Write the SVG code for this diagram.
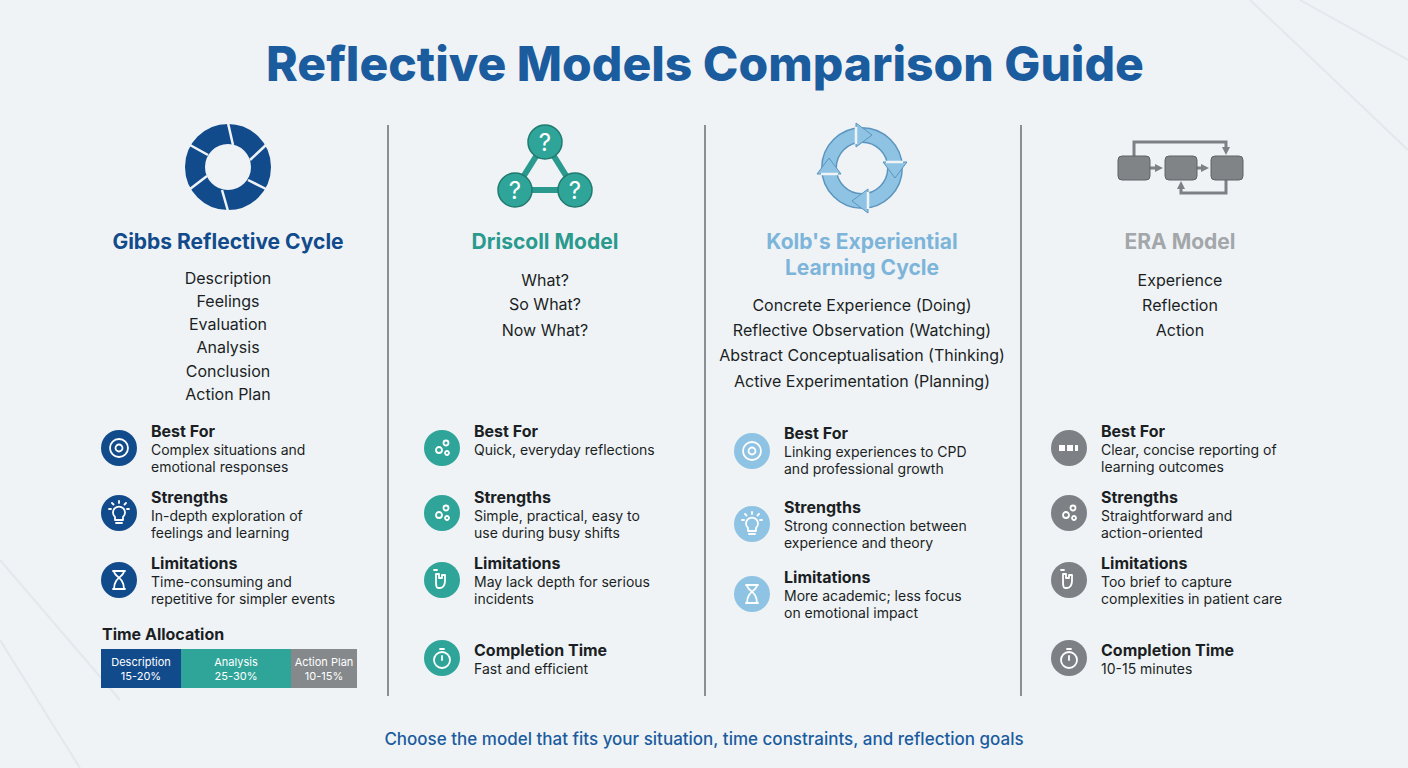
<svg xmlns="http://www.w3.org/2000/svg" width="1408" height="768" viewBox="0 0 1408 768">
<style>
text{font-family:Inter,"Noto Sans","Liberation Sans",sans-serif;fill:#1b1f24}
.t{font-size:48px;font-weight:800;fill:#1b5c9e;text-anchor:middle}
.h{font-size:21px;font-weight:700;text-anchor:middle}
.li{font-size:16px;text-anchor:middle}
.bh{font-size:16px;font-weight:700}
.bt{font-size:14px}
.div{stroke:#8a8f94;stroke-width:2}
.w{fill:none;stroke:#fff;stroke-width:1.8;stroke-linecap:round;stroke-linejoin:round}
.bar{font-size:11px;fill:#fff;text-anchor:middle}
</style>
<defs>
<marker id="ga" markerUnits="userSpaceOnUse" markerWidth="8" markerHeight="8" refX="4" refY="4" orient="auto"><path d="M0,0L8,4L0,8z" fill="#7d8185"/></marker>
<g id="ib"><circle r="9" class="w"/><circle r="3.5" class="w"/></g>
<g id="is"><path class="w" d="M-4,4a6,6 0 1 1 8,0v3h-8z M-3,10h6 M0,-12v2 M-10,-4h2 M8,-4h2 M-7,-10l1.5,1.5 M7,-10l-1.5,1.5"/></g>
<g id="il"><path class="w" d="M-6,-9h12 M-6,9h12 M-5,-9c0,6 10,6 10,18 M5,-9c0,6 -10,6 -10,18"/></g>
<g id="ig"><circle r="3" class="w" cx="-3" cy="2"/><circle r="2.5" class="w" cx="4" cy="-5"/><circle r="2" class="w" cx="5" cy="5"/></g>
<g id="ih"><path class="w" d="M-6,0v-6h3v4h3v-3h3v6c0,4 -2,7 -5,7h-2c-2,0 -2,-3 -2,-8z M-5,-10h-3"/></g>
<g id="it"><circle r="8" cy="2" class="w"/><path class="w" d="M0,2v-4 M-2,-9h4"/></g>
</defs>
<rect width="1408" height="768" fill="#eff3f6"/>
<path d="M1250,0L1408,150M1300,0L1408,60M0,560L120,700M0,640L80,768" stroke="#e3e8ec" stroke-width="2" fill="none"/>
<text class="t" x="705" y="81">Reflective Models Comparison Guide</text>
<g id="connectors">
<line class="div" x1="388" y1="125" x2="388" y2="696"/>
<line class="div" x1="705" y1="125" x2="705" y2="696"/>
<line class="div" x1="1021" y1="125" x2="1021" y2="696"/>
</g>
<g id="gibbs">
<circle cx="228" cy="167" r="33" fill="none" stroke="#124b8c" stroke-width="20"/>
<g stroke="#eff3f6" stroke-width="2.5"><line x1="228" y1="123" x2="233" y2="145"/><line x1="266" y1="145" x2="250" y2="160"/><line x1="266" y1="189" x2="248" y2="180"/><line x1="228" y1="211" x2="222" y2="190"/><line x1="190" y1="189" x2="207" y2="176"/><line x1="190" y1="145" x2="208" y2="155"/></g>
<text class="h" x="228" y="249" style="fill:#124b8c">Gibbs Reflective Cycle</text>
<text class="li" x="228" y="284">Description</text><text class="li" x="228" y="307">Feelings</text><text class="li" x="228" y="330">Evaluation</text><text class="li" x="228" y="353">Analysis</text><text class="li" x="228" y="377">Conclusion</text><text class="li" x="228" y="400">Action Plan</text>
<circle cx="119" cy="448" r="18" fill="#124b8c"/><use href="#ib" x="119" y="448"/>
<text class="bh" x="151" y="437">Best For</text><text class="bt" x="151" y="455">Complex situations and</text><text class="bt" x="151" y="472">emotional responses</text>
<circle cx="119" cy="513" r="18" fill="#124b8c"/><use href="#is" x="119" y="513"/>
<text class="bh" x="151" y="503">Strengths</text><text class="bt" x="151" y="521">In-depth exploration of</text><text class="bt" x="151" y="538">feelings and learning</text>
<circle cx="119" cy="580" r="18" fill="#124b8c"/><use href="#il" x="119" y="580"/>
<text class="bh" x="151" y="569">Limitations</text><text class="bt" x="151" y="587">Time-consuming and</text><text class="bt" x="151" y="604">repetitive for simpler events</text>
<text class="bh" x="102" y="640">Time Allocation</text>
<rect x="101" y="649" width="80" height="39" fill="#124b8c"/><rect x="181" y="649" width="110" height="39" fill="#2fa59a"/><rect x="291" y="649" width="66" height="39" fill="#85898c"/>
<text class="bar" x="141" y="666">Description</text><text class="bar" x="141" y="680">15-20%</text>
<text class="bar" x="236" y="666">Analysis</text><text class="bar" x="236" y="680">25-30%</text>
<text class="bar" x="324" y="666">Action Plan</text><text class="bar" x="324" y="680">10-15%</text>
</g>
<g id="driscoll">
<path d="M545,142L515,190L575,190Z" fill="none" stroke="#2a9a8f" stroke-width="6"/>
<circle cx="545" cy="142" r="17" fill="#2fa59a" stroke="#217a70" stroke-width="1.5"/><circle cx="515" cy="190" r="17" fill="#2fa59a" stroke="#217a70" stroke-width="1.5"/><circle cx="575" cy="190" r="17" fill="#2fa59a" stroke="#217a70" stroke-width="1.5"/>
<text x="545" y="151" font-size="24" text-anchor="middle" style="fill:#fff">?</text><text x="515" y="199" font-size="24" text-anchor="middle" style="fill:#fff">?</text><text x="575" y="199" font-size="24" text-anchor="middle" style="fill:#fff">?</text>
<text class="h" x="545" y="249" style="fill:#2a9a8f">Driscoll Model</text>
<text class="li" x="545" y="286">What?</text><text class="li" x="545" y="310">So What?</text><text class="li" x="545" y="336">Now What?</text>
<circle cx="442" cy="448" r="18" fill="#2fa59a"/><use href="#ig" x="442" y="448"/>
<text class="bh" x="474" y="437">Best For</text><text class="bt" x="474" y="455">Quick, everyday reflections</text>
<circle cx="442" cy="513" r="18" fill="#2fa59a"/><use href="#ig" x="442" y="513"/>
<text class="bh" x="474" y="503">Strengths</text><text class="bt" x="474" y="521">Simple, practical, easy to</text><text class="bt" x="474" y="538">use during busy shifts</text>
<circle cx="442" cy="580" r="18" fill="#2fa59a"/><use href="#ih" x="442" y="580"/>
<text class="bh" x="474" y="569">Limitations</text><text class="bt" x="474" y="587">May lack depth for serious</text><text class="bt" x="474" y="604">incidents</text>
<circle cx="442" cy="658" r="18" fill="#2fa59a"/><use href="#it" x="442" y="658"/>
<text class="bh" x="474" y="656">Completion Time</text><text class="bt" x="474" y="674">Fast and efficient</text>
</g>
<g id="kolb">
<circle cx="862" cy="168" r="33" fill="none" stroke="#5b95bf" stroke-width="16"/>
<circle cx="862" cy="168" r="33" fill="none" stroke="#8fc3e3" stroke-width="13"/>
<g fill="#8fc3e3" stroke="#5b95bf" stroke-width="1"><path d="M856,123l16,12l-16,12z"/><path d="M907,162l-12,16l-12,-16z"/><path d="M868,213l-16,-12l16,-12z"/><path d="M817,174l12,-16l12,16z"/></g>
<g stroke="#eff3f6" stroke-width="2.5"><line x1="856" y1="127" x2="856" y2="144"/><line x1="903" y1="162" x2="886" y2="162"/><line x1="868" y1="209" x2="868" y2="192"/><line x1="821" y1="174" x2="838" y2="174"/></g>
<text class="h" x="862" y="249" style="fill:#7db5da">Kolb's Experiential</text><text class="h" x="862" y="275" style="fill:#7db5da">Learning Cycle</text>
<text class="li" x="862" y="311">Concrete Experience (Doing)</text><text class="li" x="862" y="336">Reflective Observation (Watching)</text><text class="li" x="862" y="361">Abstract Conceptualisation (Thinking)</text><text class="li" x="862" y="387">Active Experimentation (Planning)</text>
<circle cx="752" cy="451" r="18" fill="#8fc3e3"/><use href="#ib" x="752" y="451"/>
<text class="bh" x="784" y="439">Best For</text><text class="bt" x="784" y="457">Linking experiences to CPD</text><text class="bt" x="784" y="474">and professional growth</text>
<circle cx="752" cy="524" r="18" fill="#8fc3e3"/><use href="#is" x="752" y="524"/>
<text class="bh" x="784" y="513">Strengths</text><text class="bt" x="784" y="531">Strong connection between</text><text class="bt" x="784" y="548">experience and theory</text>
<circle cx="752" cy="594" r="18" fill="#8fc3e3"/><use href="#il" x="752" y="594"/>
<text class="bh" x="784" y="583">Limitations</text><text class="bt" x="784" y="601">More academic; less focus</text><text class="bt" x="784" y="618">on emotional impact</text>
</g>
<g id="era">
<path d="M1134,156V142H1226V151" fill="none" stroke="#7d8185" stroke-width="3" marker-end="url(#ga)"/>
<path d="M1226,180V193H1181V185" fill="none" stroke="#7d8185" stroke-width="3" marker-end="url(#ga)"/>
<path d="M1150,168h9" stroke="#7d8185" stroke-width="3" marker-end="url(#ga)"/><path d="M1197,168h8" stroke="#7d8185" stroke-width="3" marker-end="url(#ga)"/>
<rect x="1118" y="156" width="32" height="24" rx="4" fill="#808487" stroke="#5f6366"/><rect x="1165" y="156" width="32" height="24" rx="4" fill="#808487" stroke="#5f6366"/><rect x="1211" y="156" width="32" height="24" rx="4" fill="#808487" stroke="#5f6366"/>
<text class="h" x="1180" y="249" style="fill:#a3a7aa">ERA Model</text>
<text class="li" x="1180" y="286">Experience</text><text class="li" x="1180" y="311">Reflection</text><text class="li" x="1180" y="336">Action</text>
<circle cx="1069" cy="448" r="18" fill="#7d8185"/><path d="M1059,445h6v6h-6zM1067,445h6v6h-6zM1075,445h3v6h-3z" fill="#fff"/>
<text class="bh" x="1101" y="437">Best For</text><text class="bt" x="1101" y="455">Clear, concise reporting of</text><text class="bt" x="1101" y="472">learning outcomes</text>
<circle cx="1069" cy="513" r="18" fill="#7d8185"/><use href="#ig" x="1069" y="513"/>
<text class="bh" x="1101" y="503">Strengths</text><text class="bt" x="1101" y="521">Straightforward and</text><text class="bt" x="1101" y="538">action-oriented</text>
<circle cx="1069" cy="580" r="18" fill="#7d8185"/><use href="#ih" x="1069" y="580"/>
<text class="bh" x="1101" y="569">Limitations</text><text class="bt" x="1101" y="587">Too brief to capture</text><text class="bt" x="1101" y="604">complexities in patient care</text>
<circle cx="1069" cy="658" r="18" fill="#7d8185"/><use href="#it" x="1069" y="658"/>
<text class="bh" x="1101" y="656">Completion Time</text><text class="bt" x="1101" y="674">10-15 minutes</text>
</g>
<text x="704" y="745" font-size="17" font-weight="500" text-anchor="middle" style="fill:#1b5c9e">Choose the model that fits your situation, time constraints, and reflection goals</text>
</svg>
